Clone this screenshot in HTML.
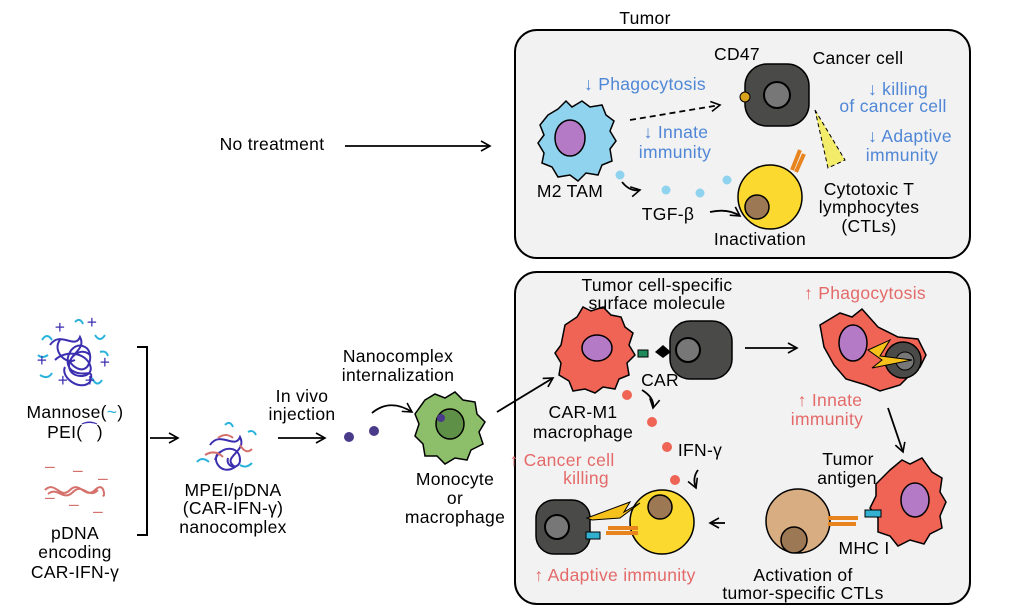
<!DOCTYPE html>
<html><head><meta charset="utf-8"><style>
body{margin:0;background:#fff}
svg text{font-family:"Liberation Sans","Noto Sans CJK KR",sans-serif;font-size:17.5px;text-anchor:middle;letter-spacing:0.3px}
.b{fill:#4f86d6}.r{fill:#e46a6a}
</style></head><body>
<svg width="1024" height="611" viewBox="0 0 1024 611" xmlns="http://www.w3.org/2000/svg">
<defs><marker id="a" markerWidth="12" markerHeight="12" refX="10" refY="6" orient="auto" markerUnits="userSpaceOnUse"><path d="M1,1 L10,6 L1,11" fill="none" stroke="#000" stroke-width="1.6"/></marker></defs>
<g stroke="#000" stroke-width="2" fill="#f2f2f2">
<rect x="515" y="30" width="455" height="228" rx="22"/>
<rect x="515" y="272" width="455" height="332" rx="22"/>
</g>
<text x="645" y="24">Tumor</text>
<text x="272" y="150">No treatment</text>
<g stroke="#000" stroke-width="1.8" fill="none" marker-end="url(#a)">
<line x1="345" y1="146" x2="490" y2="146"/>
<line x1="630" y1="120" x2="720" y2="105" stroke-dasharray="6,4"/>
<path d="M622,182 Q630,192 640,190"/>
<path d="M710,212 Q728,208 740,216"/>
<path d="M150,438 L178,438"/>
<path d="M278,438 L325,438"/>
<path d="M372,413 Q390,398 412,412"/>
<path d="M497,412 L553,378"/>
<path d="M745,348 L797,348"/>
<path d="M888,408 L903,452"/>
<path d="M725,523 L710,523"/>
<path d="M642,390 Q655,398 653,408"/>
<path d="M698,470 Q692,478 696,488"/>
</g>
<path d="M137,347 H147 V535 H137" stroke="#000" stroke-width="2" fill="none"/>
<!-- top cells -->
<path d="M548,115 l10,-6 8,-8 6,6 10,-6 8,6 12,-2 4,10 8,6 -4,10 6,10 -6,8 2,12 -10,4 -4,10 -12,-2 -8,8 -8,-6 -12,2 -6,-10 -10,-4 2,-10 -6,-10 6,-8 -4,-10z" fill="#8fd3ee" stroke="#000" stroke-width="1.5"/>
<ellipse cx="570" cy="138" rx="15" ry="18" fill="#b57ac6" stroke="#000" stroke-width="1.5"/>
<rect x="745" y="64" width="64" height="62" rx="22" fill="#4a4a48" stroke="#000" stroke-width="1.5"/>
<circle cx="777" cy="95" r="13" fill="#777" stroke="#000" stroke-width="2"/>
<circle cx="745" cy="97" r="5" fill="#d9a21d" stroke="#000"/>
<polygon points="815,110 845,160 828,168" fill="#f3ec6a" stroke="#000" stroke-dasharray="4,3"/>
<circle cx="770" cy="197" r="32" fill="#fcd92f" stroke="#000" stroke-width="1.5"/>
<circle cx="757" cy="207" r="12" fill="#9c7855" stroke="#000" stroke-width="1.5"/>
<path d="M792,170 l8,-20 M796,172 l8,-18" stroke="#e8841e" stroke-width="4"/>
<g fill="#8fd3ee"><circle cx="620" cy="175" r="4.5"/><circle cx="666" cy="190" r="4.5"/><circle cx="700" cy="193" r="4.5"/><circle cx="727" cy="180" r="4.5"/></g>
<text x="645" y="90" class="b">↓ Phagocytosis</text>
<text x="737" y="60">CD47</text>
<text x="858" y="64">Cancer cell</text>
<text x="898" y="95" class="b">↓ killing</text>
<text x="893" y="112" class="b">of cancer cell</text>
<text x="910" y="142" class="b">↓ Adaptive</text>
<text x="902" y="161" class="b">immunity</text>
<text x="676" y="138" class="b">↓ Innate</text>
<text x="675" y="158" class="b">immunity</text>
<text x="570" y="197">M2 TAM</text>
<text x="668" y="220">TGF-β</text>
<text x="760" y="245">Inactivation</text>
<text x="869" y="195">Cytotoxic T</text>
<text x="869" y="213">lymphocytes</text>
<text x="869" y="232">(CTLs)</text>
<!-- bottom cells -->
<path d="M565,325 l12,-8 6,-10 8,4 12,-4 8,8 10,2 4,10 8,6 -4,12 6,10 -8,8 2,12 -10,4 -4,10 -12,-2 -8,6 -10,-4 -12,2 -4,-10 -10,-6 2,-12 -6,-10 6,-8 z" fill="#ef6454" stroke="#000" stroke-width="1.5"/>
<ellipse cx="597" cy="348" rx="15" ry="13" fill="#b57ac6" stroke="#000" stroke-width="1.5"/>
<rect x="670" y="321" width="62" height="58" rx="20" fill="#4a4a48" stroke="#000" stroke-width="1.5"/>
<circle cx="688" cy="350" r="12" fill="#777" stroke="#000" stroke-width="2"/>
<polygon points="655,352 663,345 671,352 663,358" fill="#000"/>
<rect x="638" y="350" width="10" height="7" fill="#1f8a5a" stroke="#000"/>
<path d="M820,325 l20,-12 12,4 10,-8 16,18 20,10 20,2 8,16 -6,12 -10,8 -10,10 -20,6 -14,-6 -20,-6 -12,-14 -10,-18 z" fill="#ef6454" stroke="#000" stroke-width="1.5"/>
<circle cx="903" cy="360" r="18" fill="#4a4a48" stroke="#000" stroke-width="1.5"/>
<circle cx="905" cy="361" r="9" fill="#777" stroke="#000"/>
<ellipse cx="853" cy="343" rx="14" ry="18" fill="#b57ac6" stroke="#000" stroke-width="1.5"/>
<polygon points="868,350 890,340 880,356 912,360 872,368 882,360" fill="#f7c11b" stroke="#000"/>
<path d="M890,470 l12,-10 8,4 12,-6 10,14 10,6 -2,14 6,10 -6,14 2,12 -12,6 -6,10 -14,-4 -12,6 -8,-10 -12,-4 0,-14 -8,-10 6,-12 0,-12z" fill="#ef6454" stroke="#000" stroke-width="1.5"/>
<ellipse cx="915" cy="500" rx="14" ry="17" fill="#b57ac6" stroke="#000" stroke-width="1.5"/>
<rect x="865" y="510" width="16" height="7" fill="#31b0d0" stroke="#000"/>
<circle cx="798" cy="521" r="32" fill="#d9ad82" stroke="#000" stroke-width="1.5"/>
<circle cx="794" cy="540" r="13" fill="#9c7855" stroke="#000" stroke-width="1.5"/>
<path d="M828,518 h30 M828,524 h28" stroke="#e8841e" stroke-width="4"/>
<rect x="536" y="500" width="54" height="54" rx="18" fill="#4a4a48" stroke="#000" stroke-width="1.5"/>
<circle cx="557" cy="527" r="12" fill="#777" stroke="#000" stroke-width="2"/>
<circle cx="662" cy="522" r="32" fill="#fcd92f" stroke="#000" stroke-width="1.5"/>
<circle cx="660" cy="507" r="12" fill="#9c7855" stroke="#000" stroke-width="1.5"/>
<path d="M606,533 h32 M608,528 h30" stroke="#e8841e" stroke-width="4"/>
<rect x="586" y="532" width="14" height="7" fill="#31b0d0" stroke="#000"/>
<polygon points="587,518 630,502 624,512 640,503 620,518 592,520" fill="#f7c11b" stroke="#000"/>
<g fill="#ef6454"><circle cx="627" cy="395" r="5"/><circle cx="652" cy="422" r="5"/><circle cx="667" cy="447" r="5"/><circle cx="675" cy="480" r="5"/></g>
<text x="657" y="291">Tumor cell-specific</text>
<text x="657" y="309">surface molecule</text>
<text x="865" y="299" class="r">↑ Phagocytosis</text>
<text x="660" y="386">CAR</text>
<text x="583" y="418">CAR-M1</text>
<text x="583" y="438">macrophage</text>
<text x="700" y="456">IFN-γ</text>
<text x="562" y="466" class="r">↑ Cancer cell</text>
<text x="586" y="484" class="r">killing</text>
<text x="830" y="406" class="r">↑ Innate</text>
<text x="827" y="425" class="r">immunity</text>
<text x="848" y="465">Tumor</text>
<text x="847" y="484">antigen</text>
<text x="864" y="554">MHC I</text>
<text x="803" y="581">Activation of</text>
<text x="803" y="599">tumor-specific CTLs</text>
<text x="615" y="581" class="r">↑ Adaptive immunity</text>
<!-- left -->
<g fill="none" stroke-width="2">
<path d="M50,345 c10,-15 25,5 30,-8 c8,15 -20,20 -5,30 c15,10 20,-15 10,-20 c-15,-8 -25,20 -10,25 c10,5 20,-5 15,10 c-10,10 -30,-5 -25,-15 M55,360 c10,-10 30,-8 35,5 c5,12 -15,15 -20,5 c-5,-10 10,-25 20,-15 M60,340 c-8,10 5,25 15,20" stroke="#3b2fb0"/>
<path d="M42,340 q5,-8 10,0 M95,335 q5,8 10,0 M40,375 q8,5 12,-2 M92,378 q5,10 10,2 M75,322 q5,-5 8,2 M48,355 q-6,4 -10,0 M100,352 q6,-2 8,4" stroke="#29b3dc"/>
<path d="M45,490 c10,-10 15,10 25,0 s15,10 25,0 s10,10 8,5 M48,494 c10,-8 15,8 25,-2 s15,8 25,-2" stroke="#d5716d"/>
<path d="M210,445 c10,-15 25,5 30,-8 c8,15 -20,20 -5,30 c-15,10 -25,-10 -15,-15 M215,460 c5,-15 25,-15 25,0 c0,10 -15,8 -12,-2" stroke="#3b2fb0"/>
<path d="M205,455 q10,-6 18,2 M240,445 q6,10 12,4 M218,438 q8,-6 15,0" stroke="#d5716d"/>
<path d="M197,462 q5,-6 12,0 M240,465 q6,4 12,-2 M225,425 q5,-5 8,2 M248,432 q5,-3 8,3" stroke="#29b3dc"/>
</g>
<g fill="#3b2fb0" font-size="14"><text x="60" y="333">+</text><text x="92" y="328">+</text><text x="42" y="366">+</text><text x="105" y="368">+</text><text x="63" y="386">+</text><text x="90" y="386">+</text></g>
<g fill="#d5716d"><text x="50" y="472">–</text><text x="78" y="476">–</text><text x="103" y="484">–</text><text x="50" y="503">–</text><text x="74" y="510">–</text><text x="98" y="517">–</text></g>
<text x="75" y="418">Mannose(<tspan fill="#29b3dc">~</tspan>)</text>
<text x="75" y="438">PEI(<tspan fill="#3b2fb0">⁀</tspan>)</text>
<text x="75" y="539">pDNA</text>
<text x="75" y="558">encoding</text>
<text x="75" y="578">CAR-IFN-γ</text>
<text x="233" y="496">MPEI/pDNA</text>
<text x="233" y="514">(CAR-IFN-γ)</text>
<text x="233" y="533">nanocomplex</text>
<text x="302" y="402">In vivo</text>
<text x="302" y="420">injection</text>
<text x="398" y="362">Nanocomplex</text>
<text x="398" y="381">internalization</text>
<text x="455" y="485">Monocyte</text>
<text x="455" y="504">or</text>
<text x="455" y="523">macrophage</text>
<circle cx="349" cy="437" r="5" fill="#4a3a8a"/><circle cx="374" cy="431" r="5" fill="#4a3a8a"/>
<path d="M425,400 l10,-6 10,4 10,-6 8,8 12,2 2,12 8,8 -6,10 4,12 -12,6 -4,10 -12,-2 -10,6 -8,-8 -12,0 -2,-12 -8,-8 4,-12 -4,-10z" fill="#8dbf6b" stroke="#000" stroke-width="1.5"/>
<ellipse cx="450" cy="424" rx="14" ry="15" fill="#5e9048" stroke="#000" stroke-width="1.5"/>
<circle cx="441" cy="418" r="4" fill="#4a3a8a"/>
</svg>
</body></html>
